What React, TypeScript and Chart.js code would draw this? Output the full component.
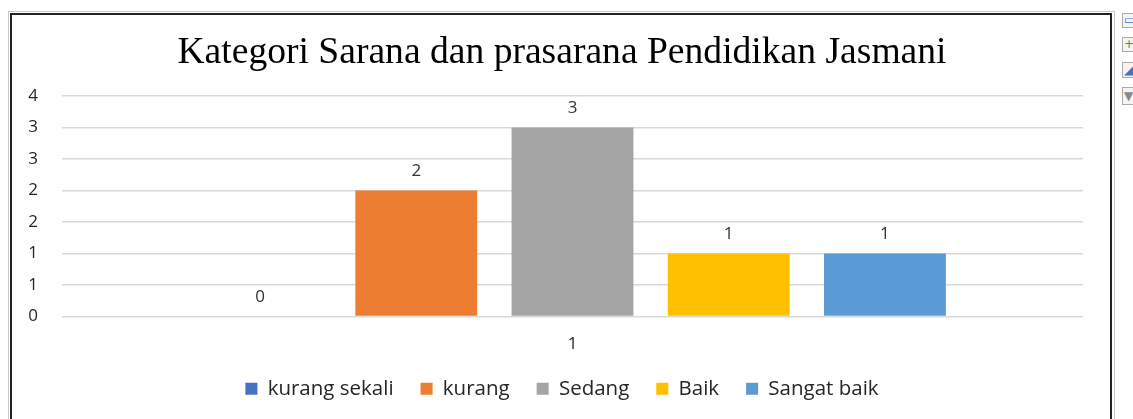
import React, { useEffect, useRef } from "react";
import { Chart, registerables } from "chart.js";

Chart.register(...registerables);

const chartTitle = "Kategori Sarana dan prasarana Pendidikan Jasmani";
const categories = ["1"];
const seriesNames = ["kurang sekali", "kurang", "Sedang", "Baik", "Sangat baik"];
const seriesValues = [0, 2, 3, 1, 1];
const seriesColors = ["#4472C4", "#ED7D31", "#A5A5A5", "#FFC000", "#5B9BD5"];
const yTickLabels = ["0", "1", "1", "2", "2", "3", "3", "4"];
const yMin = 0;
const yMax = 3.5;
const yStep = 0.5;

const W = 1133;
const H = 419;
const SANS = "'Open Sans', Lato, sans-serif";

const valueLabels = {
  id: "valueLabels",
  afterDatasetsDraw(chart: any) {
    const ctx = chart.ctx;
    ctx.save();
    ctx.font = `17px ${SANS}`;
    ctx.fillStyle = "#333333";
    ctx.textAlign = "center";
    ctx.textBaseline = "middle";
    chart.data.datasets.forEach((ds: any, i: number) => {
      const meta = chart.getDatasetMeta(i);
      meta.data.forEach((el: any, j: number) => {
        ctx.fillText(String(ds.data[j]), el.x, el.y - 19);
      });
    });
    ctx.restore();
  },
};

export default function App() {
  const ref = useRef<HTMLCanvasElement | null>(null);

  useEffect(() => {
    if (!ref.current) return;
    const chart = new Chart(ref.current, {
      type: "bar",
      data: {
        labels: categories,
        datasets: seriesNames.map((name, i) => ({
          label: name,
          data: [seriesValues[i]],
          backgroundColor: seriesColors[i],
          borderWidth: 0,
          categoryPercentage: 0.765,
          barPercentage: 0.78,
          yAxisID: "y",
        })),
      },
      options: {
        responsive: false,
        animation: false,
        layout: { padding: { left: 0, right: 9, top: 0, bottom: 10 } },
        plugins: {
          title: {
            display: true,
            text: chartTitle,
            color: "#000000",
            font: { family: "'Liberation Serif', 'Times New Roman', serif", size: 37.6, weight: "normal" },
            padding: { top: 31, bottom: 20 },
          },
          legend: {
            position: "bottom",
            labels: {
              boxWidth: 12,
              boxHeight: 12,
              padding: 27,
              color: "#262626",
              font: { family: SANS, size: 20.5 },
            },
          },
          tooltip: { enabled: false },
        },
        scales: {
          x: {
            grid: { display: false, drawTicks: false },
            border: { display: false },
            ticks: { color: "#262626", font: { family: SANS, size: 17 }, padding: 17 },
            afterFit(scale: any) {
              scale.height = 35;
            },
          },
          y: {
            position: "left",
            min: yMin,
            max: yMax,
            grid: { color: "#d9d9d9", lineWidth: 1.5, drawTicks: false },
            border: { display: false },
            ticks: {
              stepSize: yStep,
              padding: 24,
              color: "#262626",
              font: { family: SANS, size: 17 },
              callback: (_v: any, idx: number) => yTickLabels[idx],
            },
            afterFit(scale: any) {
              scale.width = 62;
            },
          },
          yRightSpace: {
            position: "right",
            display: true,
            grid: { display: false, drawTicks: false },
            border: { display: false },
            ticks: { display: false },
            afterFit(scale: any) {
              scale.width = 41;
            },
          },
        },
      },
      plugins: [valueLabels],
    } as any);
    return () => chart.destroy();
  }, []);

  const iconBox = (top: number, h: number, glyph: string, color: string) => (
    <div
      style={{
        position: "absolute",
        left: 1122,
        top,
        width: 14,
        height: h,
        border: "1px solid #aaaaaa",
        background: "#f4f4f4",
        boxSizing: "border-box",
        fontSize: 12,
        lineHeight: `${h - 2}px`,
        color,
        fontFamily: "DejaVu Sans, sans-serif",
        paddingLeft: 1,
        overflow: "hidden",
      }}
    >
      {glyph}
    </div>
  );

  return (
    <div
      style={{
        position: "fixed",
        left: 0,
        top: 0,
        width: W,
        height: H,
        overflow: "hidden",
        background: "#ffffff",
      }}
    >
      <div
        style={{
          position: "absolute",
          left: 8,
          top: 11,
          width: 1107,
          height: 500,
          border: "1px solid #c8c8c8",
          boxSizing: "border-box",
        }}
      />
      <div
        style={{
          position: "absolute",
          left: 10,
          top: 13,
          width: 1102,
          height: 500,
          borderLeft: "2px solid #222222",
          borderTop: "2px solid #222222",
          borderRight: "2px solid #222222",
          boxSizing: "border-box",
        }}
      />
      {iconBox(13, 15, "▭", "#4472C4")}
      {iconBox(37, 15, "+", "#2e9e4f")}
      {iconBox(62, 16, "◢", "#4472C4")}
      {iconBox(87, 18, "▼", "#888888")}
      <canvas
        ref={ref}
        width={W}
        height={H}
        style={{ position: "absolute", left: 0, top: 0, width: W, height: H }}
      />
    </div>
  );
}
